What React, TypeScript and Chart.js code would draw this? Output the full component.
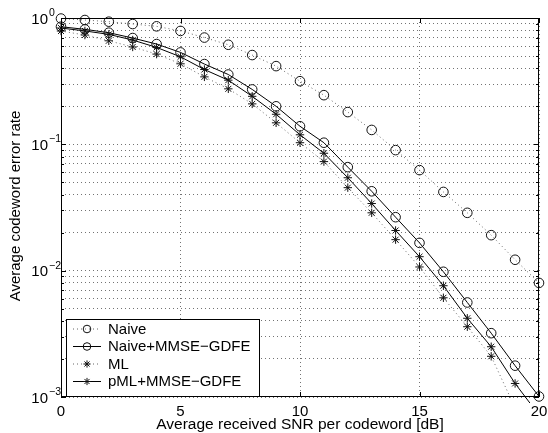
import React, { useEffect, useRef } from 'react';
import { Chart, registerables } from 'chart.js';

Chart.register(...registerables);

const snrDb = [0, 1, 2, 3, 4, 5, 6, 7, 8, 9, 10, 11, 12, 13, 14, 15, 16, 17, 18, 19, 20];
const naive = [0.99, 0.964, 0.935, 0.896, 0.859, 0.79, 0.70, 0.614, 0.509, 0.416, 0.316, 0.245, 0.18, 0.13, 0.090, 0.0625, 0.042, 0.0287, 0.0191, 0.0122, 0.0080];
const naiveMmse = [0.853, 0.813, 0.765, 0.694, 0.622, 0.534, 0.432, 0.357, 0.272, 0.20, 0.139, 0.103, 0.066, 0.0425, 0.0265, 0.0166, 0.0098, 0.0056, 0.0032, 0.00177, 0.00101];
const ml = [0.789, 0.733, 0.66, 0.59, 0.518, 0.434, 0.342, 0.275, 0.209, 0.148, 0.103, 0.073, 0.0454, 0.0287, 0.0176, 0.0107, 0.0061, 0.0036, 0.0021, 0.00082, 0.0004];
const pmlMmse = [0.833, 0.79, 0.742, 0.669, 0.585, 0.493, 0.391, 0.322, 0.24, 0.173, 0.119, 0.085, 0.0544, 0.034, 0.0208, 0.0129, 0.0076, 0.0042, 0.0025, 0.00128, 0.00072];

const seriesLabels = ['Naive', 'Naive+MMSE\u2212GDFE', 'ML', 'pML+MMSE\u2212GDFE'];
const xTickValues = [0, 5, 10, 15, 20];
const xTickLabels = ['0', '5', '10', '15', '20'];
const yDecadeValues = [0.001, 0.01, 0.1, 1];
const yDecadeExponents = ['\u22123', '\u22122', '\u22121', '0'];
const yMinorValues = [
  0.002, 0.003, 0.004, 0.005, 0.006, 0.007, 0.008, 0.009,
  0.02, 0.03, 0.04, 0.05, 0.06, 0.07, 0.08, 0.09,
  0.2, 0.3, 0.4, 0.5, 0.6, 0.7, 0.8, 0.9,
];
const xTitle = 'Average received SNR per codeword [dB]';
const yTitle = 'Average codeword error rate';

const FONT = '"Liberation Sans", Arial, Helvetica, sans-serif';

const toPoints = (ys: number[]) => snrDb.map((x, i) => ({ x, y: ys[i] }));

function drawMarker(ctx: CanvasRenderingContext2D, style: string, x: number, y: number, r: number) {
  ctx.beginPath();
  if (style === 'circle') {
    ctx.arc(x, y, r, 0, Math.PI * 2);
  } else {
    for (let k = 0; k < 4; k++) {
      const a = (k * Math.PI) / 4;
      ctx.moveTo(x - r * Math.cos(a), y - r * Math.sin(a));
      ctx.lineTo(x + r * Math.cos(a), y + r * Math.sin(a));
    }
  }
  ctx.stroke();
}

const decorPlugin = {
  id: 'decor',
  afterDraw(chart: any) {
    const { ctx, chartArea } = chart;
    const { left, right, top, bottom } = chartArea;
    const xs = chart.scales.x;
    const ys = chart.scales.y;
    ctx.save();
    ctx.strokeStyle = '#000';
    ctx.lineWidth = 1;
    ctx.setLineDash([]);
    // frame
    ctx.strokeRect(Math.round(left) + 0.5, Math.round(top) + 0.5, Math.round(right - left) - 1, Math.round(bottom - top) - 1);
    // inner ticks
    ctx.beginPath();
    xTickValues.forEach((v) => {
      const px = Math.round(xs.getPixelForValue(v)) + 0.5;
      ctx.moveTo(px, bottom);
      ctx.lineTo(px, bottom - 5);
      ctx.moveTo(px, top);
      ctx.lineTo(px, top + 5);
    });
    yDecadeValues.forEach((v) => {
      const py = Math.round(ys.getPixelForValue(v)) + 0.5;
      ctx.moveTo(left, py);
      ctx.lineTo(left + 5, py);
      ctx.moveTo(right, py);
      ctx.lineTo(right - 5, py);
    });
    yMinorValues.forEach((v) => {
      const py = Math.round(ys.getPixelForValue(v)) + 0.5;
      ctx.moveTo(left, py);
      ctx.lineTo(left + 3, py);
      ctx.moveTo(right, py);
      ctx.lineTo(right - 3, py);
    });
    ctx.stroke();

    // tick labels
    ctx.fillStyle = '#000';
    ctx.font = `15px ${FONT}`;
    ctx.textAlign = 'center';
    ctx.textBaseline = 'alphabetic';
    xTickValues.forEach((v, i) => {
      ctx.fillText(xTickLabels[i], xs.getPixelForValue(v), 415.5);
    });
    yDecadeValues.forEach((v, i) => {
      const py = ys.getPixelForValue(v);
      ctx.font = `15px ${FONT}`;
      ctx.textAlign = 'right';
      ctx.fillText('10', 48, py + 5.5);
      ctx.font = `10.5px ${FONT}`;
      ctx.textAlign = 'left';
      ctx.fillText(yDecadeExponents[i], 49, py - 2);
    });

    // axis titles
    ctx.font = `15.5px ${FONT}`;
    ctx.textAlign = 'center';
    ctx.fillText(xTitle, (left + right) / 2, 428.5);
    ctx.save();
    ctx.translate(20, 206);
    ctx.rotate(-Math.PI / 2);
    ctx.font = `15px ${FONT}`;
    ctx.fillText(yTitle, 0, 0);
    ctx.restore();

    // legend
    const lx = 66, ly = 319, lw = 193, lh = 77;
    ctx.fillStyle = '#fff';
    ctx.fillRect(lx, ly, lw, lh);
    ctx.strokeStyle = '#000';
    ctx.lineWidth = 1;
    ctx.strokeRect(lx + 0.5, ly + 0.5, lw, lh);
    const rows = [329, 346.5, 364, 381.5];
    chart.data.datasets.forEach((ds: any, i: number) => {
      const ry = rows[i];
      ctx.strokeStyle = ds.borderColor;
      ctx.lineWidth = 1;
      ctx.setLineDash(ds.borderDash || []);
      ctx.beginPath();
      ctx.moveTo(73, ry);
      ctx.lineTo(101, ry);
      ctx.stroke();
      ctx.setLineDash([]);
      ctx.strokeStyle = ds.pointBorderColor;
      drawMarker(ctx, ds.pointStyle, 87, ry, ds.pointStyle === 'circle' ? 3.8 : 3.6);
      ctx.fillStyle = '#000';
      ctx.font = `15px ${FONT}`;
      ctx.textAlign = 'left';
      ctx.textBaseline = 'middle';
      ctx.fillText(ds.label, 108, ry + 0.5);
    });
    ctx.restore();
  },
};

export default function App() {
  const ref = useRef<HTMLCanvasElement | null>(null);
  useEffect(() => {
    if (!ref.current) return;
    const dotted = [1, 3];
    const mk = (label: string, ys: number[], dash: number[] | undefined, style: string, lineColor: string, clipBottom: number) => ({
      label,
      data: toPoints(ys),
      borderColor: lineColor,
      borderWidth: 1,
      borderDash: dash,
      pointStyle: style,
      pointRadius: style === 'circle' ? 4.8 : 4.2,
      pointBorderColor: '#111',
      pointBackgroundColor: 'rgba(0,0,0,0)',
      pointBorderWidth: 1,
      tension: 0,
      fill: false,
      clip: { left: 8, right: 8, top: 8, bottom: clipBottom },
    });
    const chart = new Chart(ref.current, {
      type: 'line',
      data: {
        datasets: [
          mk(seriesLabels[0], naive, dotted, 'circle', '#666', 6),
          mk(seriesLabels[1], naiveMmse, undefined, 'circle', '#000', 6),
          mk(seriesLabels[2], ml, dotted, 'star', '#666', 2),
          mk(seriesLabels[3], pmlMmse, undefined, 'star', '#000', 6),
        ] as any,
      },
      options: {
        animation: false,
        responsive: false,
        maintainAspectRatio: false,
        layout: { padding: { top: 18, right: 9, left: 0, bottom: 0 } },
        plugins: { legend: { display: false }, tooltip: { enabled: false } },
        scales: {
          x: {
            type: 'linear',
            min: 0,
            max: 20,
            afterBuildTicks: (scale: any) => {
              scale.ticks = xTickValues.map((v) => ({ value: v }));
            },
            afterFit: (scale: any) => {
              scale.height = 36;
            },
            ticks: { display: false },
            grid: { color: 'rgba(0,0,0,0.55)', lineWidth: 1, drawTicks: false },
            border: { display: false, dash: [1, 3] },
          },
          y: {
            type: 'logarithmic',
            min: 0.001,
            max: 1,
            afterBuildTicks: (scale: any) => {
              scale.ticks = [...yMinorValues, ...yDecadeValues].sort((a, b) => a - b).map((v) => ({ value: v }));
            },
            afterFit: (scale: any) => {
              scale.width = 61;
            },
            ticks: { display: false },
            grid: { color: 'rgba(0,0,0,0.55)', lineWidth: 1, drawTicks: false },
            border: { display: false, dash: [1, 3] },
          },
        },
      } as any,
      plugins: [decorPlugin],
    });
    return () => chart.destroy();
  }, []);
  return (
    <div style={{ position: 'fixed', left: 0, top: 0, width: 548, height: 433, background: '#fff' }}>
      <canvas ref={ref} width={548} height={433} style={{ width: 548, height: 433 }} />
    </div>
  );
}
